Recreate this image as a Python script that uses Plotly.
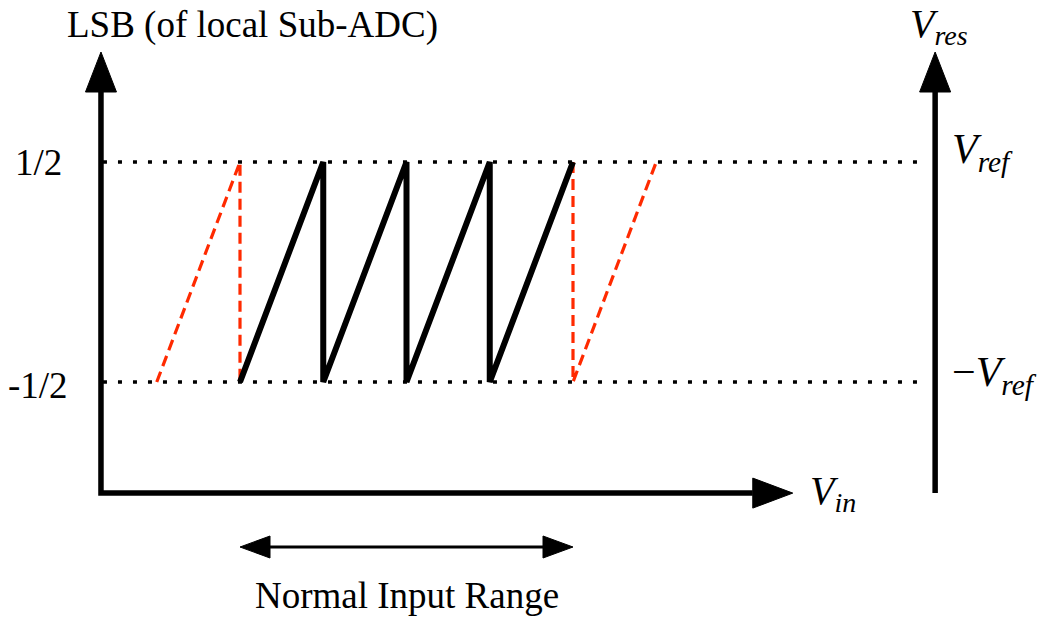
import plotly.graph_objects as go

# ---------------- data ----------------
lsb_levels = [0.5, -0.5]
lsb_tick_labels = ["1/2", "-1/2"]
vres_tick_labels = ["<i>V<sub>ref</sub></i>", "−<i>V<sub>ref</sub></i>"]

# residue sawtooth (Vin in units of one sub-range, residue in LSB)
saw_vin = [0, 1, 1, 2, 2, 3, 3, 4]
saw_res = [-0.5, 0.5, -0.5, 0.5, -0.5, 0.5, -0.5, 0.5]
red_left_vin = [-1, 0, 0]
red_left_res = [-0.5, 0.5, -0.5]
red_right_vin = [4, 4, 5]
red_right_res = [0.5, -0.5, 0.5]
normal_range = [0, 4]

# ---------------- geometry ----------------
W, H = 1061, 618
XS, YS = 83.25, 220.0          # px per data unit
OX, OY = 240.0, 272.0          # pixel of data origin
x0 = -OX / XS
x1 = x0 + W / XS
y1 = OY / YS
y0 = y1 - H / YS

def dx(px):
    return px / XS

def dy(px):
    return px / YS

left_axis_x = -1.67
bottom_axis_y = -1.005
right_axis_x = 8.35
axis_top = 1.0
xaxis_tip = 6.64
dot_x = [-1.646, 8.23]
range_y = -1.25

FONT = "Liberation Serif"

fig = go.Figure()

# dotted reference levels
for lv in lsb_levels:
    fig.add_trace(go.Scatter(x=dot_x, y=[lv, lv], mode="lines",
                             line=dict(color="black", width=3.5, dash="4px,11px"),
                             hoverinfo="skip"))

# red dashed extensions
fig.add_trace(go.Scatter(x=red_left_vin, y=red_left_res, mode="lines",
                         line=dict(color="#ff2a00", width=3.2, dash="11px,6px"),
                         hoverinfo="skip"))
fig.add_trace(go.Scatter(x=red_right_vin, y=red_right_res, mode="lines",
                         line=dict(color="#ff2a00", width=3.2, dash="11px,6px"),
                         hoverinfo="skip"))

# black sawtooth
fig.add_trace(go.Scatter(x=saw_vin, y=saw_res, mode="lines",
                         line=dict(color="black", width=6),
                         hoverinfo="skip"))

# axes (left + bottom)
ah_len_v, ah_w_v = dy(40), dx(31)
ah_len_h, ah_w_h = dx(40), dy(30)
fig.add_trace(go.Scatter(
    x=[left_axis_x, left_axis_x, xaxis_tip - ah_len_h],
    y=[axis_top - ah_len_v, bottom_axis_y, bottom_axis_y],
    mode="lines", line=dict(color="black", width=5.5), hoverinfo="skip"))
# right axis
fig.add_trace(go.Scatter(
    x=[right_axis_x, right_axis_x],
    y=[bottom_axis_y, axis_top - ah_len_v],
    mode="lines", line=dict(color="black", width=5.5), hoverinfo="skip"))

def tri(xs, ys):
    fig.add_trace(go.Scatter(x=xs + [xs[0]], y=ys + [ys[0]], mode="lines",
                             fill="toself", fillcolor="black",
                             line=dict(color="black", width=1), hoverinfo="skip"))

# arrowheads of axes
for ax in (left_axis_x, right_axis_x):
    tri([ax - ah_w_v / 2, ax + ah_w_v / 2, ax],
        [axis_top - ah_len_v, axis_top - ah_len_v, axis_top])
tri([xaxis_tip - ah_len_h, xaxis_tip - ah_len_h, xaxis_tip],
    [bottom_axis_y + ah_w_h / 2, bottom_axis_y - ah_w_h / 2, bottom_axis_y])

# normal input range double arrow
ra_len, ra_w = dx(30), dy(22)
fig.add_trace(go.Scatter(
    x=[normal_range[0] + ra_len, normal_range[1] - ra_len],
    y=[range_y, range_y], mode="lines",
    line=dict(color="black", width=3), hoverinfo="skip"))
tri([normal_range[0] + ra_len, normal_range[0] + ra_len, normal_range[0]],
    [range_y + ra_w / 2, range_y - ra_w / 2, range_y])
tri([normal_range[1] - ra_len, normal_range[1] - ra_len, normal_range[1]],
    [range_y + ra_w / 2, range_y - ra_w / 2, range_y])

ann = []
def text(x, y, s, size, xanchor="center", yanchor="middle"):
    ann.append(dict(x=x, y=y, xref="x", yref="y", text=s, showarrow=False,
                    font=dict(family=FONT, size=size, color="black"),
                    xanchor=xanchor, yanchor=yanchor, borderpad=0))

# tick labels
text(left_axis_x - dx(62), lsb_levels[0], lsb_tick_labels[0], 37)
text(left_axis_x - dx(63), lsb_levels[1] - dy(3), lsb_tick_labels[1], 37)
text(right_axis_x + dx(16), lsb_levels[0] + dy(10), vres_tick_labels[0], 42, xanchor="left")
text(right_axis_x + dx(16), lsb_levels[1] + dy(7), vres_tick_labels[1], 42, xanchor="left")

text(left_axis_x + dx(152), axis_top + dy(27), "LSB (of local Sub-ADC)", 37)
text(right_axis_x + dx(4), axis_top + dy(26), "<i>V<sub>res</sub></i>", 40)
text(xaxis_tip + dx(40), bottom_axis_y, "<i>V<sub>in</sub></i>", 40)
text((normal_range[0] + normal_range[1]) / 2, range_y - dy(48), "Normal Input Range", 37)

fig.update_layout(
    width=W, height=H, margin=dict(l=0, r=0, t=0, b=0),
    paper_bgcolor="white", plot_bgcolor="white", showlegend=False,
    font=dict(family=FONT),
    xaxis=dict(range=[x0, x1], visible=False, fixedrange=True),
    yaxis=dict(range=[y0, y1], visible=False, fixedrange=True),
    annotations=ann,
)

fig.write_html("out.html")
